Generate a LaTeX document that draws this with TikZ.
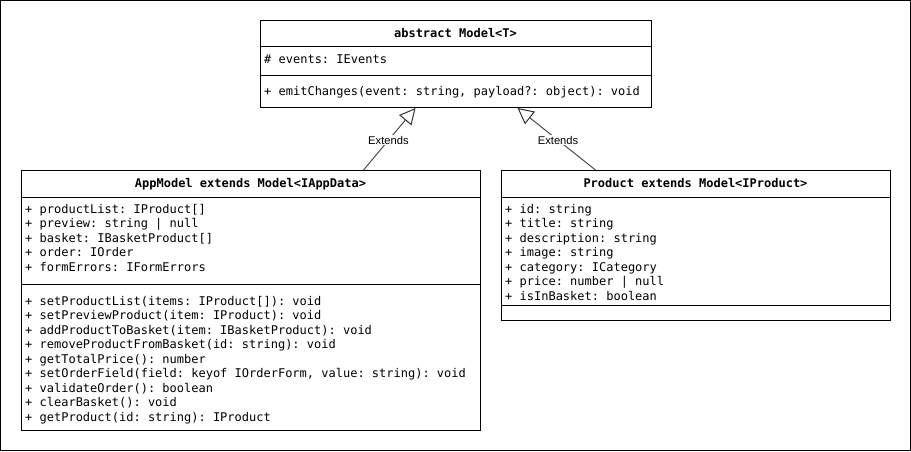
\documentclass[tikz,border=0pt]{standalone}
\usepackage{fontspec}
\setmonofont{DejaVu Sans Mono}
\setsansfont{Liberation Sans}
\usetikzlibrary{arrows.meta}
\begin{document}
\begin{tikzpicture}[x=1pt,y=-1pt,
 box/.style={draw, line width=1pt, inner sep=0, anchor=north west},
 sep/.style={line width=1pt},
 row/.style={anchor=west, inner sep=0, font=\ttfamily\fontsize{12}{14}\selectfont, text height=10.5pt, text depth=1.5pt},
 ttl/.style={anchor=center, inner sep=0, font=\ttfamily\bfseries\fontsize{12}{14}\selectfont, text height=10pt, text depth=2pt},
 lbl/.style={fill=white, inner sep=1pt, font=\sffamily\fontsize{11.2}{13}\selectfont},
 ext/.style={line width=1pt, draw=black!70, -{Triangle[open, length=16pt, width=16pt, fill=white, color=black!80]}}
]
\useasboundingbox (0,0) rectangle (911,451);
\draw[line width=1pt] (0.5,0.5) rectangle (910.5,450.5);

% abstract Model<T>
\node[box, minimum width=391pt, minimum height=87pt] (model) at (260,20) {};
\draw[sep] (260,46) -- (651,46);
\draw[sep] (260,75) -- (651,75);
\node[ttl] (modelT) at (455.5,33) {abstract Model<T>};
\node[row] (m1) at (264,59) {\# events: IEvents};
\node[row] (m2) at (264,91) {+ emitChanges(event: string, payload?: object): void};

% AppModel
\node[box, minimum width=459pt, minimum height=260pt] (app) at (21,170) {};
\draw[sep] (21,197) -- (480,197);
\draw[sep] (21,284) -- (480,284);
\node[ttl] (appT) at (250.5,183) {AppModel extends Model<IAppData>};
\node[row] (a1) at (25,208.5) {+ productList: IProduct[]};
\node[row] (a2) at (25,223) {+ preview: string | null};
\node[row] (a3) at (25,237.5) {+ basket: IBasketProduct[]};
\node[row] (a4) at (25,252) {+ order: IOrder};
\node[row] (a5) at (25,266.5) {+ formErrors: IFormErrors};
\node[row] (b1) at (25,300.5) {+ setProductList(items: IProduct[]): void};
\node[row] (b2) at (25,315) {+ setPreviewProduct(item: IProduct): void};
\node[row] (b3) at (25,329.5) {+ addProductToBasket(item: IBasketProduct): void};
\node[row] (b4) at (25,344) {+ removeProductFromBasket(id: string): void};
\node[row] (b5) at (25,358.5) {+ getTotalPrice(): number};
\node[row] (b6) at (25,373) {+ setOrderField(field: keyof IOrderForm, value: string): void};
\node[row] (b7) at (25,387.5) {+ validateOrder(): boolean};
\node[row] (b8) at (25,402) {+ clearBasket(): void};
\node[row] (b9) at (25,416.5) {+ getProduct(id: string): IProduct};

% Product
\node[box, minimum width=389pt, minimum height=150pt] (prod) at (501,170) {};
\draw[sep] (501,197) -- (890,197);
\draw[sep] (501,305) -- (890,305);
\node[ttl] (prodT) at (695.5,183) {Product extends Model<IProduct>};
\node[row] (p1) at (505,208.5) {+ id: string};
\node[row] (p2) at (505,223) {+ title: string};
\node[row] (p3) at (505,237.5) {+ description: string};
\node[row] (p4) at (505,252) {+ image: string};
\node[row] (p5) at (505,266.5) {+ category: ICategory};
\node[row] (p6) at (505,281) {+ price: number | null};
\node[row] (p7) at (505,295.5) {+ isInBasket: boolean};

% inheritance
\draw[ext] ([xshift=112.5pt]app.north) -- node[lbl, pos=0.48] (e1) {Extends} ([xshift=-40.5pt]model.south);
\draw[ext] ([xshift=-100.5pt]prod.north) -- node[lbl, pos=0.48] (e2) {Extends} ([xshift=61.5pt]model.south);
\end{tikzpicture}
\end{document}
